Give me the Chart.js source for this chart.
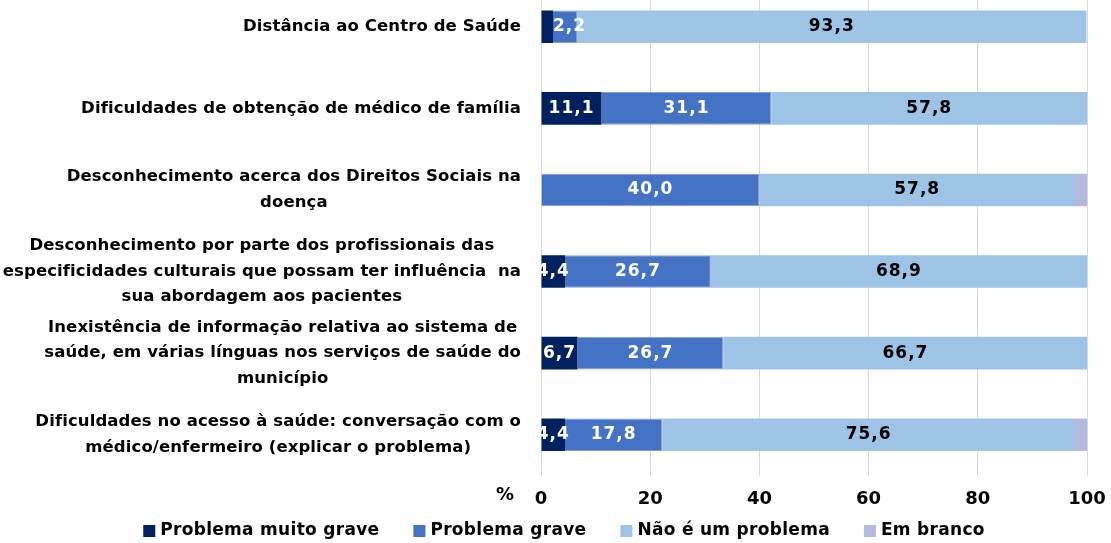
<!DOCTYPE html>
<html>
<head>
<meta charset="utf-8">
<script src="https://cdn.jsdelivr.net/npm/chart.js@4.4.1/dist/chart.umd.min.js"></script>
<style>
  html, body { margin: 0; padding: 0; background: #fff; overflow: hidden; }
  #moldura { width: 1111px; height: 543px; overflow: hidden; position: relative; }
  /* a área do gráfico começa um pouco acima do topo visível */
  #wrap { position: absolute; left: 0; top: -14px; width: 1111px; height: 557px; }
</style>
</head>
<body>
<div id="moldura"><div id="wrap"><canvas id="js--chart--barreiras"></canvas></div></div>
<script>
const categorias = [
  ['Distância ao Centro de Saúde'],
  ['Dificuldades de obtenção de médico de família'],
  ['Desconhecimento acerca dos Direitos Sociais na', 'doença'],
  ['Desconhecimento por parte dos profissionais das', 'especificidades culturais que possam ter influência  na', 'sua abordagem aos pacientes'],
  ['Inexistência de informação relativa ao sistema de', 'saúde, em várias línguas nos serviços de saúde do', 'município'],
  ['Dificuldades no acesso à saúde: conversação com o', 'médico/enfermeiro (explicar o problema)']
];
const muitoGrave = [2.2, 11.1, 0, 4.4, 6.7, 4.4];
const grave = [4.4, 31.1, 40.0, 26.7, 26.7, 17.8];
const naoProblema = [93.3, 57.8, 57.8, 68.9, 66.7, 75.6];
const emBranco = [0, 0, 2.2, 0, 0, 2.2];
const ticksX = [0, 20, 40, 60, 80, 100];

// rótulo do "Problema grave" na primeira barra não aparece
const semRotulo = [{ serie: 1, linha: 0 }];

const FONTE = '"DejaVu Sans", sans-serif';

// nomes das categorias, centrados entre si e encostados à direita
const rotulosCategorias = {
  id: 'rotulosCategorias',
  afterDraw(chart) {
    const ctx = chart.ctx;
    const y = chart.scales.y;
    const direita = 521;
    const alturaLinha = 25.5;
    ctx.save();
    ctx.font = 'bold 16.5px ' + FONTE;
    ctx.letterSpacing = '0.1px';
    ctx.fillStyle = '#000';
    ctx.textAlign = 'center';
    ctx.textBaseline = 'middle';
    categorias.forEach((linhas, i) => {
      const larg = Math.max(...linhas.map(l => ctx.measureText(l).width));
      const cx = direita - larg / 2;
      const cy = y.getPixelForValue(i);
      const topo = cy - (linhas.length - 1) * alturaLinha / 2;
      linhas.forEach((l, k) => ctx.fillText(l, cx, topo + k * alturaLinha));
    });
    // sinal de percentagem à esquerda dos valores do eixo
    ctx.letterSpacing = '0px';
    ctx.font = 'bold 18px ' + FONTE;
    ctx.fillText('%', 505, chart.scales.x.top + 20);
    ctx.restore();
  }
};

// legenda desenhada à mão: quadrado, texto e espaço largo entre itens
const legenda = {
  id: 'legenda',
  afterDraw(chart) {
    const ctx = chart.ctx;
    const lado = 12;
    const folgaTexto = 5;
    const folgaItem = 34;
    const cy = chart.height - 12;
    ctx.save();
    ctx.font = 'bold 17px ' + FONTE;
    ctx.letterSpacing = '0.3px';
    ctx.textBaseline = 'middle';
    ctx.textAlign = 'left';
    const itens = chart.data.datasets.map(ds => ({
      txt: ds.label,
      cor: ds.backgroundColor,
      larg: ctx.measureText(ds.label).width
    }));
    const total = itens.reduce((a, it) => a + lado + folgaTexto + it.larg, 0) + folgaItem * (itens.length - 1);
    let x = 564 - total / 2;
    itens.forEach(it => {
      ctx.fillStyle = it.cor;
      ctx.fillRect(x, cy - lado / 2, lado, lado);
      x += lado + folgaTexto;
      ctx.fillStyle = '#000';
      ctx.fillText(it.txt, x, cy);
      x += it.larg + folgaItem;
    });
    ctx.restore();
  }
};

// valores dentro dos segmentos
const rotulosValores = {
  id: 'rotulosValores',
  afterDatasetsDraw(chart) {
    const ctx = chart.ctx;
    ctx.save();
    ctx.font = 'bold 17px ' + FONTE;
    ctx.letterSpacing = '1px';
    ctx.textBaseline = 'middle';
    chart.data.datasets.forEach((ds, s) => {
      if (s === 3) return;
      const meta = chart.getDatasetMeta(s);
      meta.data.forEach((bar, i) => {
        const v = ds.data[i];
        if (!v) return;
        if (semRotulo.some(r => r.serie === s && r.linha === i)) return;
        const txt = v.toFixed(1).replace('.', ',');
        const larg = ctx.measureText(txt).width;
        const segm = bar.x - bar.base;
        ctx.fillStyle = s === 2 ? '#000' : '#fff';
        if (larg > segm * 2) {
          ctx.textAlign = 'left';
          ctx.fillText(txt, bar.x, bar.y);
        } else {
          ctx.textAlign = 'center';
          ctx.fillText(txt, (bar.x + bar.base) / 2, bar.y);
        }
      });
    });
    ctx.restore();
  }
};

const ctx = document.getElementById('js--chart--barreiras');

new Chart(ctx, {
  type: 'bar',
  data: {
    labels: categorias,
    datasets: [
      { label: 'Problema muito grave', data: muitoGrave, backgroundColor: '#002060' },
      { label: 'Problema grave', data: grave, backgroundColor: '#4472C4', borderColor: '#7f9dd6', borderWidth: 1 },
      { label: 'Não é um problema', data: naoProblema, backgroundColor: '#9DC3E6' },
      { label: 'Em branco', data: emBranco, backgroundColor: '#B4B9DE' }
    ]
  },
  options: {
    indexAxis: 'y',
    responsive: true,
    maintainAspectRatio: false,
    animation: false,
    layout: { padding: { top: 0, right: 24, left: 0, bottom: 33.5 } },
    datasets: {
      bar: { barPercentage: 0.4, categoryPercentage: 1 }
    },
    scales: {
      x: {
        stacked: true,
        min: 0,
        max: 100,
        afterBuildTicks(scale) {
          scale.ticks = ticksX.map(v => ({ value: v }));
        },
        afterFit(scale) {
          scale.height = 34;
          scale.paddingLeft = 0;
          scale.paddingRight = 0;
        },
        grid: { color: '#d9d9d9', drawTicks: false },
        border: { display: false },
        ticks: {
          padding: 13,
          color: '#000',
          font: { family: FONTE, size: 18, weight: 'bold' }
        }
      },
      y: {
        stacked: true,
        afterFit(scale) { scale.width = 541; },
        grid: { display: false },
        border: { display: false },
        ticks: { display: false }
      }
    },
    plugins: {
      legend: { display: false },
      tooltip: { enabled: false }
    }
  },
  plugins: [rotulosCategorias, rotulosValores, legenda]
});
</script>
</body>
</html>
